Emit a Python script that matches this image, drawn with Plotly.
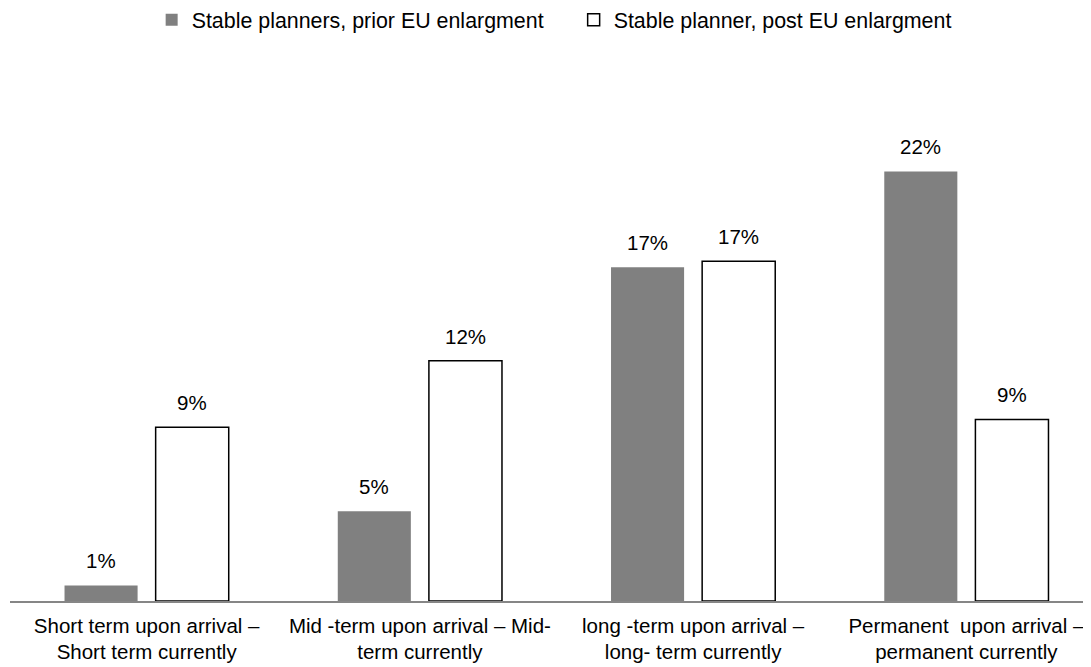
import plotly.graph_objects as go

categories = [
    "Short term upon arrival –<br>Short term currently",
    "Mid -term upon arrival – Mid-<br>term currently",
    "long -term upon arrival –<br>long- term currently",
    "Permanent\u00a0 upon arrival –<br>permanent currently",
]
prior_values = [0.8, 4.6, 17.1, 22.0]
post_values = [8.9, 12.3, 17.4, 9.3]
series_names = ["Stable planners, prior EU enlargment", "Stable planner, post EU enlargment"]

FONT = "Liberation Sans, Arial, sans-serif"
BARGAP = 0.333
PLOT_W = 1093

fig = go.Figure()
fig.add_trace(go.Bar(
    x=categories, y=prior_values, name=series_names[0],
    marker=dict(color="#808080", line=dict(width=0)),
))
fig.add_trace(go.Bar(
    x=categories, y=post_values, name=series_names[1],
    marker=dict(color="#ffffff", line=dict(color="#000000", width=1.5)),
))

# value labels above the bars, anchored on the data values
slot_px = PLOT_W / len(categories) * (1 - BARGAP) / 2
for k, vals in enumerate([prior_values, post_values]):
    for cat, v in zip(categories, vals):
        fig.add_annotation(
            x=cat, y=v, xref="x", yref="y",
            text=f"{v:.0f}%", showarrow=False,
            xshift=(k - 0.5) * slot_px, yshift=11,
            yanchor="bottom", xanchor="center",
            font=dict(family=FONT, size=20.5, color="#000000"),
        )

fig.update_layout(
    width=1100, height=667,
    margin=dict(l=2, r=5, t=92, b=74, autoexpand=False),
    paper_bgcolor="white", plot_bgcolor="white",
    font=dict(family=FONT, size=20.5, color="#000000"),
    barmode="group", bargap=BARGAP, bargroupgap=0.198,
    showlegend=True,
    legend=dict(orientation="h", x=0.1296, xanchor="left", y=1.16, yanchor="middle",
                font=dict(size=21.4), entrywidth=377, itemwidth=30, traceorder="normal"),
)
fig.update_xaxes(showline=True, linecolor="#868686", linewidth=2, ticks="",
                 ticklabelstandoff=5,
                 showgrid=False, tickfont=dict(size=20.5, color="#000000"))
fig.update_yaxes(visible=False, range=[0, 25.66], showgrid=False, zeroline=False)

fig.write_html("out.html")
